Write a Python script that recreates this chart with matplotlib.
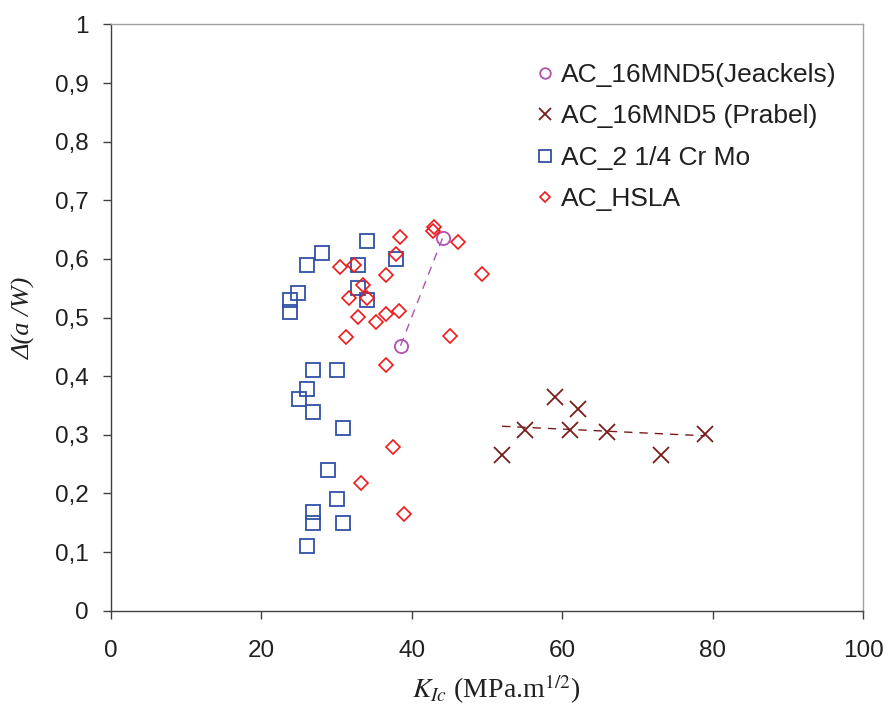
import matplotlib
matplotlib.use("Agg")
import matplotlib.pyplot as plt
import numpy as np

plt.rcParams['font.family'] = ['Liberation Sans', 'DejaVu Sans']
plt.rcParams['mathtext.fontset'] = 'stix'

# Jeackels 16MND5
jea_k = [38.5, 44.1]
jea_da = [0.452, 0.636]

# Prabel 16MND5
pra_k = [52.0, 55.0, 59.0, 61.0, 62.1, 66.0, 73.1, 79.0]
pra_da = [0.266, 0.308, 0.365, 0.308, 0.344, 0.304, 0.266, 0.301]

# 2 1/4 Cr Mo
crmo_k = [34.1, 28.0, 26.0, 32.8, 37.9, 24.9, 23.8, 23.8, 32.9, 34.1, 26.9,
          30.0, 26.0, 25.0, 26.9, 30.9, 28.9, 30.0, 26.9, 26.9, 30.9, 26.0]
crmo_da = [0.631, 0.610, 0.590, 0.590, 0.600, 0.542, 0.530, 0.510, 0.551, 0.530, 0.410,
           0.410, 0.379, 0.361, 0.339, 0.311, 0.240, 0.191, 0.169, 0.150, 0.150, 0.110]

# HSLA
hsla_k = [43.0, 42.8, 38.4, 46.1, 30.4, 32.3, 37.9, 36.6, 49.4, 33.5, 31.6,
          34.0, 32.8, 35.3, 36.6, 38.3, 31.3, 45.1, 36.6, 37.5, 33.3, 39.0]
hsla_da = [0.655, 0.648, 0.638, 0.629, 0.586, 0.589, 0.608, 0.572, 0.575, 0.556, 0.534,
           0.533, 0.501, 0.492, 0.506, 0.511, 0.467, 0.469, 0.419, 0.280, 0.218, 0.165]

labels = ['AC_16MND5(Jeackels)', 'AC_16MND5 (Prabel)', 'AC_2 1/4 Cr Mo', 'AC_HSLA']

x_ticks = [0, 20, 40, 60, 80, 100]
y_ticks = [0, 0.1, 0.2, 0.3, 0.4, 0.5, 0.6, 0.7, 0.8, 0.9, 1.0]
y_tick_labels = ['0', '0,1', '0,2', '0,3', '0,4', '0,5', '0,6', '0,7', '0,8', '0,9', '1']

c_jea = '#B050B0'
c_pra = '#7B1C1C'
c_crmo = '#3050A8'
c_hsla = '#F01818'

fig = plt.figure(figsize=(8.9, 7.06), dpi=100)
ax = fig.add_axes([0.1247, 0.135, 0.9697 - 0.1247, 0.9653 - 0.135])

ax.plot(jea_k, jea_da, 'o', ms=9.5, mfc='none', mec=c_jea, mew=1.3, label=labels[0])
ax.plot(pra_k, pra_da, 'x', ms=11, color=c_pra, mew=1.3, label=labels[1])
ax.plot(crmo_k, crmo_da, 's', ms=10, mfc='none', mec=c_crmo, mew=1.3, label=labels[2])
ax.plot(hsla_k, hsla_da, 'D', ms=7, mfc='none', mec=c_hsla, mew=1.2, label=labels[3])

# linear trend lines
for k, da, col in [(jea_k, jea_da, c_jea), (pra_k, pra_da, c_pra)]:
    p = np.polyfit(k, da, 1)
    xs = np.array([min(k), max(k)])
    ax.plot(xs, np.polyval(p, xs), '--', color=col, lw=1.0, dashes=(6, 5), zorder=1)

ax.set_xlim(0, 100)
ax.set_ylim(0, 1)
ax.set_xticks(x_ticks)
ax.set_xticklabels([str(v) for v in x_ticks])
ax.set_yticks(y_ticks)
ax.set_yticklabels(y_tick_labels)
ax.tick_params(axis='both', direction='out', length=6, width=1.0, color='#404040',
               labelsize=17.5, labelcolor='#202020')
ax.tick_params(axis='x', pad=15)
ax.tick_params(axis='y', pad=10)

for s in ['left', 'bottom']:
    ax.spines[s].set_color('#404040')
    ax.spines[s].set_linewidth(1.0)
for s in ['top', 'right']:
    ax.spines[s].set_color('#A0A0A0')
    ax.spines[s].set_linewidth(1.0)

ax.set_xlabel(r'$K_{Ic}$ (MPa.m$^{1/2}$)', fontfamily='Liberation Serif', fontsize=20, color='#202020')
ax.set_ylabel('Δ(a /W)', fontfamily='Liberation Serif', fontstyle='italic', fontsize=19, color='#202020')
ax.xaxis.set_label_coords(0.512, -0.105)
ax.yaxis.set_label_coords(-0.1, 0.5)

leg = ax.legend(loc='upper left', bbox_to_anchor=(0.53, 0.975), frameon=False,
                fontsize=19, markerscale=0.8, handlelength=0.9, handletextpad=0.15,
                labelspacing=0.66, labelcolor='#202020')

fig.savefig('out.png', dpi=100)
